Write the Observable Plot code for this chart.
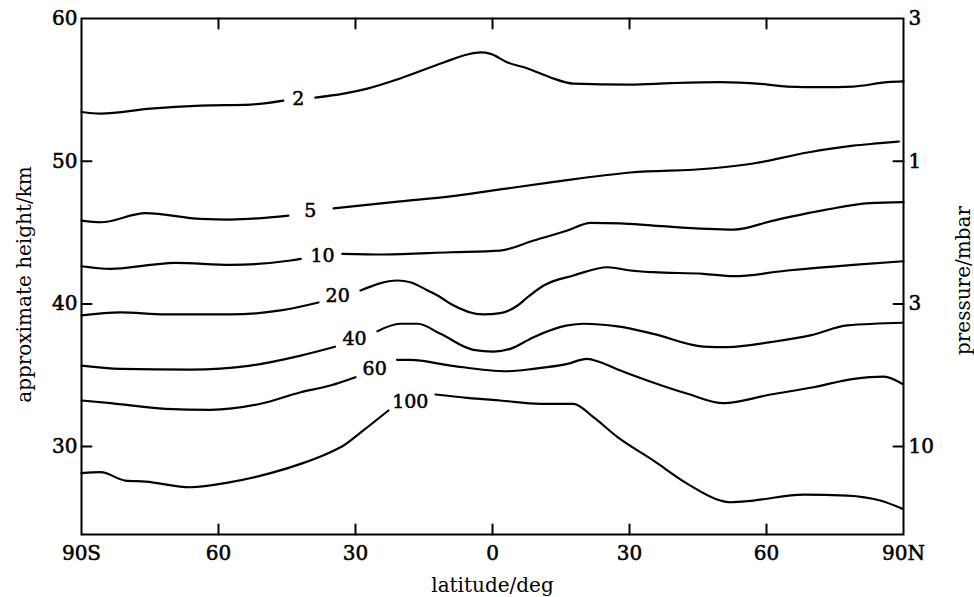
<!DOCTYPE html>
<html><head><meta charset="utf-8">
<script src="https://cdn.jsdelivr.net/npm/d3@7"></script>
<script src="https://cdn.jsdelivr.net/npm/@observablehq/plot@0.6"></script>
<style>
body{margin:0;background:#fff}
#chart svg g[aria-label$="tick label"] text, #chart svg g.contour-label text { stroke: #000; stroke-width: 0.55px; }
</style>
</head><body><div id="chart"></div>
<script>
// contour values (pressure levels, labels on lines)
const contourNames = ["2", "5", "10", "20", "40", "60", "100"];

// each contour: latitude (deg, -90 = 90S) and approximate height (km); null = gap at label
const lat2 = [-90, -85.8, -74.9, -63.9, -53.0, -45.8, null, -38.8, -32.6, -27.4, -20.2, -10.7, -5.5, -2.6, -0.4, 3.3, 7.7, 12.7, 17.7, 30.2, 39.0, 49.9, 58.7, 64.6, 71.8, 79.0, 86.5, 90];
const hgt2 = [53.45, 53.34, 53.69, 53.90, 53.97, 54.25, null, 54.46, 54.74, 55.09, 55.80, 56.92, 57.48, 57.62, 57.52, 56.92, 56.50, 55.87, 55.44, 55.37, 55.47, 55.54, 55.42, 55.23, 55.19, 55.23, 55.54, 55.59];

const lat5 = [-90, -85.8, -76.0, -63.9, -57.4, -44.7, null, -34.8, -20.2, -9.2, 1.7, 12.7, 30.2, 47.7, 57.1, 69.0, 79.0, 84.9, 89.0];
const hgt5 = [45.84, 45.72, 46.36, 45.96, 45.91, 46.19, null, 46.69, 47.18, 47.53, 48.02, 48.51, 49.21, 49.49, 49.84, 50.61, 51.09, 51.26, 51.38];

const lat10 = [-90, -83.6, -74.9, -69.4, -57.4, -44.2, -42.0, null, -32.9, -23.9, -9.2, 1.7, 9.0, 16.4, 21.5, 28.0, 35.2, 52.8, 61.5, 72.3, 82.6, 90];
const hgt10 = [42.64, 42.46, 42.74, 42.88, 42.74, 43.04, 43.16, null, 43.51, 43.46, 43.62, 43.74, 44.44, 45.14, 45.68, 45.64, 45.49, 45.21, 45.84, 46.55, 47.06, 47.13];

const lat20 = [-90, -81.5, -71.6, -57.4, -46.4, -38.1, null, -28.9, -20.8, -18.0, -14.2, -11.4, -9.2, -2.0, 1.7, 5.5, 7.7, 11.2, 17.7, 25.2, 30.2, 35.2, 46.2, 52.8, 64.6, 79.0, 90];
const hgt20 = [39.19, 39.40, 39.26, 39.26, 39.54, 40.10, null, 40.94, 41.64, 41.52, 40.94, 40.47, 40.01, 39.26, 39.35, 39.89, 40.47, 41.29, 41.99, 42.57, 42.34, 42.22, 42.11, 41.94, 42.34, 42.74, 42.99];

const lat40 = [-90, -81.5, -66.1, -53.0, -42.0, -34.5, null, -25.2, -20.2, -16.4, -11.4, -4.2, 0.2, 3.9, 9.0, 16.4, 19.9, 27.4, 35.2, 46.2, 51.5, 60.9, 69.6, 77.7, 89.8];
const hgt40 = [35.68, 35.45, 35.40, 35.68, 36.38, 37.00, null, 38.09, 38.61, 38.61, 37.90, 36.78, 36.66, 36.85, 37.67, 38.49, 38.61, 38.42, 37.90, 37.01, 36.97, 37.32, 37.79, 38.49, 38.68];

const lat60 = [-90, -83.6, -71.6, -61.8, -50.8, -42.0, -35.5, -30.0, null, -20.9, -18.0, -9.2, 3.2, 9.0, 16.4, 20.7, 23.6, 28.0, 33.9, 42.7, 50.6, 60.9, 70.3, 79.1, 85.7, 89.7];
const hgt60 = [33.23, 33.04, 32.65, 32.58, 33.00, 33.81, 34.28, 34.86, null, 36.08, 36.08, 35.68, 35.28, 35.45, 35.80, 36.15, 35.91, 35.33, 34.63, 33.70, 33.04, 33.65, 34.16, 34.75, 34.91, 34.40];

const lat100 = [-90, -85.8, -80.4, -76.0, -66.1, -57.4, -48.6, -42.0, -35.5, -32.6, -28.3, -22.8, null, -12.5, -5.5, 1.7, 10.5, 17.7, 22.1, 27.4, 35.2, 42.7, 49.9, 52.1, 57.1, 68.1, 77.7, 84.9, 89.8];
const hgt100 = [28.14, 28.21, 27.62, 27.55, 27.15, 27.51, 28.14, 28.79, 29.61, 30.08, 31.13, 32.53, null, 33.65, 33.42, 33.23, 33.00, 33.00, 32.06, 30.66, 29.03, 27.39, 26.22, 26.10, 26.22, 26.64, 26.57, 26.22, 25.64];

// contour label positions
const labelLat = [-42.5, -39.9, -37.2, -33.9, -30.2, -25.8, -18.0];
const labelHgt = [54.39, 46.55, 43.39, 40.59, 37.58, 35.47, 33.16];

// axes
const xDomain = [-90, 90];
const yDomain = [23.84, 60];
const xTicks = [-90, -60, -30, 0, 30, 60, 90];
const xTickLabels = ["90S", "60", "30", "0", "30", "60", "90N"];
const yTicks = [30, 40, 50, 60];
const pressureTicks = [60, 50, 40, 30];
const pressureLabels = ["3", "1", "3", "10"];

const xTitle = "latitude/deg";
const yTitle = "approximate height/km";
const y2Title = "pressure/mbar";

// layout
const W = 974, H = 597, mL = 81, mR = 71, mT = 18, mB = 63;
const tickLen = 10; // px, inward
const tickDeg = tickLen * (xDomain[1] - xDomain[0]) / (W - mL - mR);
const tickKm = tickLen * (yDomain[1] - yDomain[0]) / (H - mT - mB);

// build tables
const contours = [[lat2, hgt2], [lat5, hgt5], [lat10, hgt10], [lat20, hgt20], [lat40, hgt40], [lat60, hgt60], [lat100, hgt100]];
const rows = contours.flatMap(([la, h], k) => la.map((v, i) => ({contour: contourNames[k], lat: v, hgt: h[i]})));
const labels = contourNames.map((t, i) => ({t, lat: labelLat[i], hgt: labelHgt[i]}));
const xLabelMap = new Map(xTicks.map((d, i) => [d, xTickLabels[i]]));
const pLabelMap = new Map(pressureTicks.map((d, i) => [d, pressureLabels[i]]));
const innerX = xTicks.slice(1, -1);
const innerY = yTicks.slice(0, -1);
const tickRows = [
  ...innerX.flatMap(d => [{id: "b" + d, lat: d, hgt: yDomain[0]}, {id: "b" + d, lat: d, hgt: yDomain[0] + tickKm}]),
  ...innerX.flatMap(d => [{id: "t" + d, lat: d, hgt: yDomain[1]}, {id: "t" + d, lat: d, hgt: yDomain[1] - tickKm}]),
  ...innerY.flatMap(d => [{id: "l" + d, lat: xDomain[0], hgt: d}, {id: "l" + d, lat: xDomain[0] + tickDeg, hgt: d}]),
  ...innerY.flatMap(d => [{id: "r" + d, lat: xDomain[1], hgt: d}, {id: "r" + d, lat: xDomain[1] - tickDeg, hgt: d}])
];
const font = "DejaVu Serif";

const chart = Plot.plot({
  width: W, height: H,
  marginLeft: mL, marginRight: mR, marginTop: mT, marginBottom: mB,
  style: {fontFamily: font, fontSize: "19px", background: "white", color: "black"},
  x: {domain: xDomain, axis: null},
  y: {domain: yDomain, axis: null},
  marks: [
    Plot.line(rows, {x: "lat", y: "hgt", z: "contour", curve: "monotone-x", stroke: "black", strokeWidth: 2.2}),
    Plot.text(labels, {x: "lat", y: "hgt", text: "t", fontSize: 19, fill: "black", className: "contour-label"}),
    // inward ticks
    Plot.line(tickRows, {x: "lat", y: "hgt", z: "id", curve: "linear", stroke: "black", strokeWidth: 2}),
    Plot.frame({stroke: "black", strokeWidth: 2}),
    // tick labels
    Plot.axisX(xTicks, {anchor: "bottom", tickSize: 0, tickPadding: 11, tickFormat: d => xLabelMap.get(d), label: null, fontSize: 20}),
    Plot.axisY(yTicks, {anchor: "left", tickSize: 0, tickPadding: 4, label: null, fontSize: 20}),
    Plot.axisY(pressureTicks, {anchor: "right", tickSize: 0, tickPadding: 5, tickFormat: d => pLabelMap.get(d), label: null, fontSize: 20}),
    // titles
    Plot.text([xTitle], {frameAnchor: "bottom", dy: 51, lineAnchor: "middle", textAnchor: "middle", fontSize: 20, fill: "black"}),
    Plot.text([yTitle], {frameAnchor: "left", dx: -57, dy: 8, rotate: -90, textAnchor: "middle", lineAnchor: "middle", fontSize: 20, fill: "black"}),
    Plot.text([y2Title], {frameAnchor: "right", dx: 60, dy: 4, rotate: -90, textAnchor: "middle", lineAnchor: "middle", fontSize: 20, fill: "black"})
  ]
});
document.getElementById("chart").appendChild(chart);
</script>
</body></html>
